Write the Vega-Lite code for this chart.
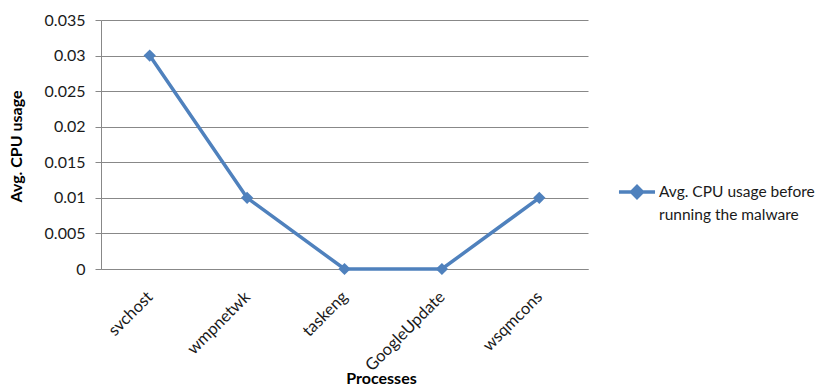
{
  "$schema": "https://vega.github.io/schema/vega-lite/v6.json",
  "width": 487,
  "height": 249,
  "autosize": "none",
  "padding": {"left": 101, "top": 20, "right": 240, "bottom": 116},
  "background": "white",
  "config": {
    "view": {"stroke": null},
    "font": "Lato",
    "style": {"guide-label": {"lineHeight": 23}},
    "axis": {"labelFont": "Lato", "titleFont": "Lato", "labelColor": "#1a1a1a", "titleColor": "#000", "labelFontSize": 16, "titleFontSize": 16, "titleFontWeight": "bold"}
  },
  "data": {
    "values": [
      {"process": "svchost", "usage": 0.03, "series": "Avg. CPU usage before running the malware"},
      {"process": "wmpnetwk", "usage": 0.01, "series": "Avg. CPU usage before running the malware"},
      {"process": "taskeng", "usage": 0, "series": "Avg. CPU usage before running the malware"},
      {"process": "GoogleUpdate", "usage": 0, "series": "Avg. CPU usage before running the malware"},
      {"process": "wsqmcons", "usage": 0.01, "series": "Avg. CPU usage before running the malware"}
    ]
  },
  "encoding": {
    "x": {
      "field": "process", "type": "nominal", "sort": null,
      "scale": {"type": "point", "padding": 0.5},
      "axis": {
        "title": "Processes", "labelAngle": -45, "labelAlign": "right", "labelBaseline": "middle",
        "labelPadding": 25, "labelFontSize": 16.5, "ticks": false, "grid": false, "domainColor": "#888", "domainWidth": 1,
        "titleX": 280, "titleY": 109, "titleBaseline": "middle", "titleAnchor": "middle"
      }
    },
    "y": {
      "field": "usage", "type": "quantitative",
      "scale": {"domain": [0, 0.035], "nice": false},
      "axis": {
        "title": "Avg. CPU usage", "values": [0, 0.005, 0.01, 0.015, 0.02, 0.025, 0.03, 0.035],
        "format": "~g", "grid": true, "gridColor": "#888", "tickColor": "#888", "tickSize": 6,
        "domainColor": "#888", "labelPadding": 10, "titleX": -85, "titleY": 126, "titleBaseline": "middle"
      }
    },
    "color": {
      "field": "series", "type": "nominal",
      "scale": {"range": ["#4F81BD"]},
      "legend": {
        "title": null, "orient": "none", "legendX": 516, "legendY": 152,
        "symbolType": "M-1,0H1M0,-0.3L0.3,0L0,0.3L-0.3,0Z",
        "symbolSize": 1300, "symbolStrokeWidth": 3.5, "symbolFillColor": "#4F81BD", "symbolStrokeColor": "#4F81BD",
        "labelExpr": "['Avg. CPU usage before', 'running the malware']",
        "labelFont": "Lato", "labelFontSize": 15.5, "labelColor": "#1a1a1a", "labelLimit": 300, "labelOffset": 2
      }
    }
  },
  "mark": {"type": "line", "strokeWidth": 3.5, "point": {"shape": "diamond", "size": 150, "filled": true}}
}
